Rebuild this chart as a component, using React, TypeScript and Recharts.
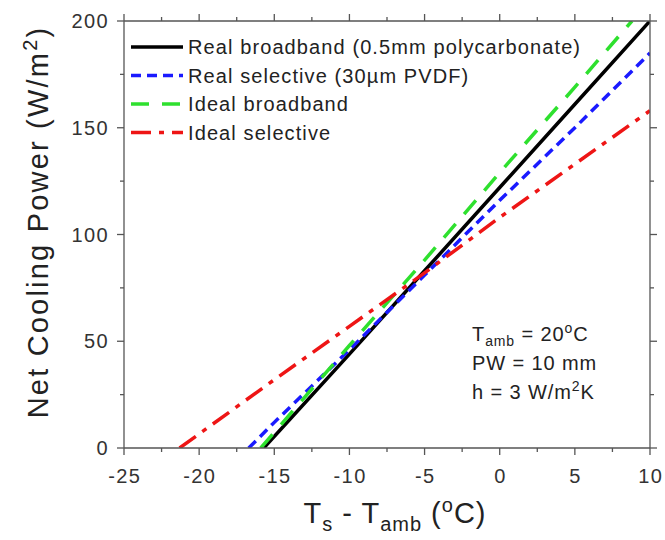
import React from "react";
import { LineChart, Line, XAxis, YAxis } from "recharts";

// Ts - Tamb (°C) vs net cooling power (W/m²)
const realBroadbandX = [-15.7, -10, -5, 0, 5, 10];
const realBroadbandY = [0, 44, 83, 122, 161, 200];
const realSelectiveX = [-16.7, -15, -10, -5, 0, 5, 10];
const realSelectiveY = [0, 12, 46, 81, 116, 150, 185];
const idealBroadbandX = [-15.9, -10, -5, 0, 5, 8.8];
const idealBroadbandY = [0, 48, 88, 129, 169, 200];
const idealSelectiveX = [-21.3, -15, -10, -5, 0, 5, 10];
const idealSelectiveY = [0, 32, 57, 82, 108, 133, 158];

const xTicks = [-25, -22.5, -20, -17.5, -15, -12.5, -10, -7.5, -5, -2.5, 0, 2.5, 5, 7.5, 10];
const yTicks = [0, 25, 50, 75, 100, 125, 150, 175, 200];

const series = [
  { name: "Real broadband (0.5mm polycarbonate)", color: "#000000", dash: "", xs: realBroadbandX, ys: realBroadbandY },
  { name: "Real selective (30\u00b5m PVDF)", color: "#1a1aff", dash: "10 6", xs: realSelectiveX, ys: realSelectiveY },
  { name: "Ideal broadband", color: "#2ee02e", dash: "18 13", xs: idealBroadbandX, ys: idealBroadbandY },
  { name: "Ideal selective", color: "#ee1515", dash: "20 8 5 8", xs: idealSelectiveX, ys: idealSelectiveY },
];

const toPoints = (xs: number[], ys: number[]) => xs.map((x, i) => ({ x, y: ys[i] }));

const AXIS = "#555";
const TEXT = "#222";
const FONT = "Liberation Sans, Arial, sans-serif";

const XTick = (props: any) => {
  const { x, y, payload, orient } = props;
  const v = payload.value;
  const major = v % 5 === 0;
  const dir = orient === "top" ? -1 : 1;
  return (
    <g>
      <line x1={x} x2={x} y1={y} y2={y + dir * (major ? 7 : 4)} stroke={AXIS} strokeWidth={1.3} />
      {orient === "bottom" && major && (
        <text x={x + 0.7} y={y + 35} textAnchor="middle" fontSize={20} letterSpacing={1.4} fill="#333" fontFamily={FONT}>
          {v}
        </text>
      )}
    </g>
  );
};

const YTick = (props: any) => {
  const { x, y, payload, orient } = props;
  const v = payload.value;
  const major = v % 50 === 0;
  const dir = orient === "left" ? -1 : 1;
  return (
    <g>
      <line x1={x} x2={x + dir * (major ? 7 : 4)} y1={y} y2={y} stroke={AXIS} strokeWidth={1.3} />
      {orient === "left" && major && (
        <text x={x - 15} y={y + 7} textAnchor="end" fontSize={20} letterSpacing={1.4} fill="#333" fontFamily={FONT}>
          {v}
        </text>
      )}
    </g>
  );
};

const LegendBox = () => (
  <svg width={500} height={130} style={{ overflow: "visible", display: "block" }}>
    {series.map((s, i) => {
      const cy = 12 + i * 28.5;
      return (
        <g key={s.name}>
          <line x1={7} x2={59} y1={cy} y2={cy} stroke={s.color} strokeWidth={3.5} strokeDasharray={s.dash} />
          <text x={64} y={cy + 7} fontSize={20} letterSpacing={1.1} fill={TEXT} fontFamily={FONT}>
            {s.name}
          </text>
        </g>
      );
    })}
  </svg>
);

export default function App() {
  return (
    <div style={{ position: "absolute", left: 0, top: 0, background: "#fff" }}>
      <LineChart width={665} height={540} margin={{ top: 20, right: 14, bottom: 0, left: 0 }}>
        <XAxis
          xAxisId="b"
          dataKey="x"
          type="number"
          domain={[-25, 10]}
          ticks={xTicks}
          interval={0}
          allowDataOverflow
          height={92}
          stroke={AXIS}
          strokeWidth={1.3}
          tickLine={false}
          tickSize={0}
          tickMargin={0}
          tick={(p: any) => <XTick {...p} orient="bottom" />}
          label={{
            content: () => (
              <text x={395} y={523} textAnchor="middle" fontSize={29} letterSpacing={1} fill={TEXT} fontFamily={FONT}>
                T<tspan fontSize={20} dy={8}>s</tspan>
                <tspan dy={-8}> - T</tspan>
                <tspan fontSize={20} dy={8}>amb</tspan>
                <tspan dy={-8}> (</tspan>
                <tspan fontSize={20} dy={-11}>o</tspan>
                <tspan dy={11}>C)</tspan>
              </text>
            ),
          }}
        />
        <XAxis
          xAxisId="t"
          dataKey="x"
          orientation="top"
          type="number"
          domain={[-25, 10]}
          ticks={xTicks}
          interval={0}
          allowDataOverflow
          height={1}
          stroke={AXIS}
          strokeWidth={1.3}
          tickLine={false}
          tickSize={0}
          tickMargin={0}
          tick={(p: any) => <XTick {...p} orient="top" />}
        />
        <YAxis
          yAxisId="l"
          type="number"
          domain={[0, 200]}
          ticks={yTicks}
          interval={0}
          allowDataOverflow
          width={124}
          stroke={AXIS}
          strokeWidth={1.3}
          tickLine={false}
          tickSize={0}
          tickMargin={0}
          tick={(p: any) => <YTick {...p} orient="left" />}
          label={{
            content: () => (
              <text
                x={0}
                y={0}
                transform="translate(48, 222) rotate(-90)"
                textAnchor="middle"
                fontSize={29}
                letterSpacing={2.2}
                fill={TEXT}
                fontFamily={FONT}
              >
                Net Cooling Power (W/m<tspan fontSize={20} dy={-11}>2</tspan>
                <tspan dy={11}>)</tspan>
              </text>
            ),
          }}
        />
        <YAxis
          yAxisId="r"
          orientation="right"
          type="number"
          domain={[0, 200]}
          ticks={yTicks}
          interval={0}
          allowDataOverflow
          width={1}
          stroke={AXIS}
          strokeWidth={1.3}
          tickLine={false}
          tickSize={0}
          tickMargin={0}
          tick={(p: any) => <YTick {...p} orient="right" />}
        />
        {series.map((s) => (
          <Line
            key={s.name}
            xAxisId="b"
            yAxisId="l"
            data={toPoints(s.xs, s.ys)}
            dataKey="y"
            name={s.name}
            type="linear"
            stroke={s.color}
            strokeWidth={3.5}
            strokeDasharray={s.dash || undefined}
            dot={false}
            activeDot={false}
            isAnimationActive={false}
          />
        ))}
        {/* invisible series so the mirrored top/right axes get a domain */}
        <Line
          xAxisId="t"
          yAxisId="r"
          data={toPoints(realBroadbandX, realBroadbandY)}
          dataKey="y"
          stroke="none"
          dot={false}
          activeDot={false}
          legendType="none"
          isAnimationActive={false}
        />
      </LineChart>
      <div style={{ position: "absolute", left: 124, top: 35 }}>
        <LegendBox />
      </div>
      <div
        style={{
          position: "absolute",
          left: 472,
          top: 320,
          fontFamily: FONT,
          fontSize: 20,
          letterSpacing: 0.9,
          color: TEXT,
          lineHeight: "29px",
        }}
      >
        <div>
          T<sub style={{ fontSize: 14, lineHeight: 0 }}>amb</sub> = 20<sup style={{ fontSize: 14, lineHeight: 0 }}>o</sup>C
        </div>
        <div>PW = 10 mm</div>
        <div>
          h = 3 W/m<sup style={{ fontSize: 14, lineHeight: 0 }}>2</sup>K
        </div>
      </div>
    </div>
  );
}
